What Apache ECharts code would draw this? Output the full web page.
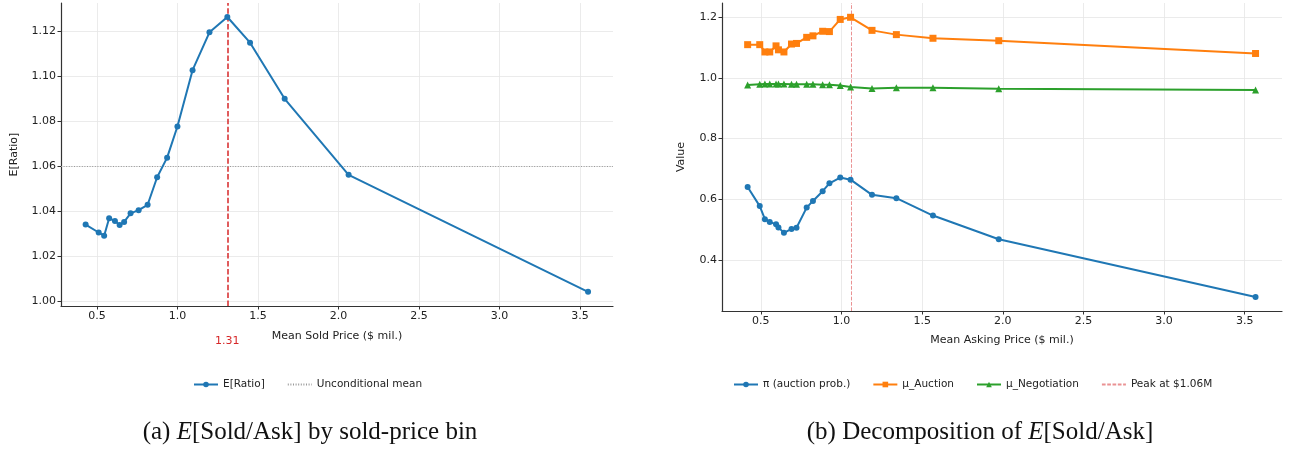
<!DOCTYPE html>
<html>
<head>
<meta charset="utf-8">
<script src="https://cdn.jsdelivr.net/npm/echarts@6/dist/echarts.min.js"></script>
<style>
  html, body { margin: 0; padding: 0; background: #ffffff; }
  #chart { width: 1291px; height: 453px; }
</style>
</head>
<body>
<div id="chart"></div>
<script>
// (a) expected sold/ask ratio by sold-price bin
const soldPrice = [0.430, 0.511, 0.545, 0.576, 0.612, 0.641, 0.669, 0.709, 0.759, 0.815,
                   0.874, 0.936, 1.000, 1.094, 1.199, 1.310, 1.451, 1.666, 2.063, 3.550];
const expRatio  = [1.0341, 1.0306, 1.0292, 1.0369, 1.0357, 1.0339, 1.0353, 1.0391, 1.0405, 1.0429,
                   1.0551, 1.0638, 1.0776, 1.1026, 1.1194, 1.1262, 1.1148, 1.0899, 1.0562, 1.0043];
const uncondMean = 1.0585;
const peakSold = 1.31;

// (b) decomposition by asking-price bin
const askPrice      = [0.418, 0.493, 0.525, 0.555, 0.594, 0.609, 0.643, 0.690, 0.721, 0.784,
                       0.823, 0.883, 0.925, 0.992, 1.056, 1.189, 1.340, 1.567, 1.975, 3.567];
const piAuction     = [0.641, 0.578, 0.535, 0.526, 0.518, 0.508, 0.490, 0.503, 0.507, 0.573,
                       0.595, 0.627, 0.653, 0.672, 0.665, 0.615, 0.604, 0.547, 0.469, 0.279];
const muAuction     = [1.109, 1.109, 1.085, 1.085, 1.105, 1.092, 1.085, 1.111, 1.113, 1.133,
                       1.138, 1.153, 1.152, 1.192, 1.199, 1.156, 1.142, 1.130, 1.122, 1.080];
const muNegotiation = [0.976, 0.979, 0.980, 0.980, 0.980, 0.980, 0.980, 0.979, 0.979, 0.979,
                       0.979, 0.977, 0.977, 0.975, 0.970, 0.965, 0.967, 0.967, 0.964, 0.960];
const peakAsk = 1.056;

// tick positions
const leftXTicks  = [0.5, 1.0, 1.5, 2.0, 2.5, 3.0, 3.5];
const leftYTicks  = [1.00, 1.02, 1.04, 1.06, 1.08, 1.10, 1.12];
const rightXTicks = [0.5, 1.0, 1.5, 2.0, 2.5, 3.0, 3.5];
const rightYTicks = [0.4, 0.6, 0.8, 1.0, 1.2];

const pair = (xs, ys) => xs.map((x, i) => [x, ys[i]]);

const FONT = 'DejaVu Sans';
const SERIF = 'Liberation Serif';
const C_BLUE = '#1f77b4', C_ORANGE = '#ff7f0e', C_GREEN = '#2ca02c', C_RED = '#d62728';
const C_MEAN = '#999999', C_PEAK = '#ea9293';

function valueAxis(opts) {
  return Object.assign({
    type: 'value',
    nameLocation: 'middle',
    nameTextStyle: { fontFamily: FONT, fontSize: 11, color: '#222' },
    axisLine: { show: true, onZero: false, lineStyle: { color: '#333', width: 1.2 } },
    axisTick: { show: true, length: 3.5, inside: false, customValues: opts.ticks,
                lineStyle: { color: '#333', width: 1 } },
    axisLabel: { show: true, customValues: opts.ticks, margin: 5,
                 fontFamily: FONT, fontSize: 11, color: '#222',
                 formatter: v => v.toFixed(opts.digits) },
    splitLine: { show: true, lineStyle: { color: '#e6e6e6', width: 0.8 } },
    splitArea: { show: false }
  }, opts.extra);
}

// legend entries that are plain reference lines carry no marker
const lineOnly = name => ({ name, itemStyle: { opacity: 0 } });

const option = {
  backgroundColor: '#ffffff',
  animation: false,
  textStyle: { fontFamily: FONT },
  grid: [
    { left: 61, top: 3, width: 552, height: 303, containLabel: false, outerBoundsMode: 'none' },
    { left: 722, top: 3, width: 560, height: 308, containLabel: false, outerBoundsMode: 'none' }
  ],
  xAxis: [
    valueAxis({ ticks: leftXTicks, digits: 1, extra: {
      gridIndex: 0, min: 0.277, max: 3.705, name: 'Mean Sold Price ($ mil.)', nameGap: 25 } }),
    valueAxis({ ticks: rightXTicks, digits: 1, extra: {
      gridIndex: 1, min: 0.259, max: 3.731, name: 'Mean Asking Price ($ mil.)', nameGap: 24 } })
  ],
  yAxis: [
    valueAxis({ ticks: leftYTicks, digits: 2, extra: {
      gridIndex: 0, min: 0.998, max: 1.1324, name: 'E[Ratio]', nameGap: 41 } }),
    valueAxis({ ticks: rightYTicks, digits: 1, extra: {
      gridIndex: 1, min: 0.233, max: 1.246, name: 'Value', nameGap: 35 } })
  ],
  legend: [
    {
      left: 193, top: 379, padding: 0, itemWidth: 24, itemHeight: 7, itemGap: 22,
      textStyle: { fontFamily: FONT, fontSize: 10.5, color: '#222' },
      data: ['E[Ratio]', lineOnly('Unconditional mean')]
    },
    {
      left: 733, top: 379, padding: 0, itemWidth: 24, itemHeight: 7, itemGap: 22,
      textStyle: { fontFamily: FONT, fontSize: 10.5, color: '#222' },
      data: ['π (auction prob.)', 'μ_Auction', 'μ_Negotiation', lineOnly('Peak at $1.06M')]
    }
  ],
  series: [
    {
      name: 'E[Ratio]', type: 'line', xAxisIndex: 0, yAxisIndex: 0,
      data: pair(soldPrice, expRatio),
      symbol: 'circle', symbolSize: 6,
      itemStyle: { color: C_BLUE }, lineStyle: { color: C_BLUE, width: 2 },
      z: 5,
      markLine: {
        silent: true, symbol: 'none', animation: false,
        lineStyle: { color: C_RED, width: 1.5, type: [5.5, 2.4] },
        label: { show: true, position: 'start', distance: 30, formatter: p => p.value.toFixed(2),
                 color: C_RED, fontFamily: FONT, fontSize: 11 },
        data: [{ xAxis: peakSold }]
      }
    },
    {
      name: 'Unconditional mean', type: 'line', xAxisIndex: 0, yAxisIndex: 0,
      data: [], symbol: 'none',
      itemStyle: { color: C_MEAN },
      lineStyle: { color: C_MEAN, width: 1, type: [1, 1.6] },
      markLine: {
        silent: true, symbol: 'none', animation: false,
        lineStyle: { color: C_MEAN, width: 1, type: [1, 1.6] },
        label: { show: false },
        data: [{ yAxis: uncondMean }]
      }
    },
    {
      name: 'π (auction prob.)', type: 'line', xAxisIndex: 1, yAxisIndex: 1,
      data: pair(askPrice, piAuction),
      symbol: 'circle', symbolSize: 6,
      itemStyle: { color: C_BLUE }, lineStyle: { color: C_BLUE, width: 2 }, z: 5
    },
    {
      name: 'μ_Auction', type: 'line', xAxisIndex: 1, yAxisIndex: 1,
      data: pair(askPrice, muAuction),
      symbol: 'rect', symbolSize: 7,
      itemStyle: { color: C_ORANGE }, lineStyle: { color: C_ORANGE, width: 2 }, z: 5
    },
    {
      name: 'μ_Negotiation', type: 'line', xAxisIndex: 1, yAxisIndex: 1,
      data: pair(askPrice, muNegotiation),
      symbol: 'triangle', symbolSize: 7,
      itemStyle: { color: C_GREEN }, lineStyle: { color: C_GREEN, width: 2 }, z: 5
    },
    {
      name: 'Peak at $1.06M', type: 'line', xAxisIndex: 1, yAxisIndex: 1,
      data: [], symbol: 'none',
      itemStyle: { color: C_PEAK },
      lineStyle: { color: C_PEAK, width: 1, type: [3.7, 1.6] },
      markLine: {
        silent: true, symbol: 'none', animation: false,
        lineStyle: { color: C_PEAK, width: 1, type: [3.7, 1.6] },
        label: { show: false },
        data: [{ xAxis: peakAsk }]
      }
    }
  ],
  graphic: [
    {
      type: 'text', x: 310, y: 432,
      style: {
        text: '{n|(a) }{i|E}{n|[Sold/Ask] by sold-price bin}',
        align: 'center', verticalAlign: 'middle',
        rich: {
          n: { fontFamily: SERIF, fontSize: 25, fill: '#111', color: '#111' },
          i: { fontFamily: SERIF, fontSize: 25, fontStyle: 'italic', fill: '#111', color: '#111' }
        }
      }
    },
    {
      type: 'text', x: 980, y: 432,
      style: {
        text: '{n|(b) Decomposition of }{i|E}{n|[Sold/Ask]}',
        align: 'center', verticalAlign: 'middle',
        rich: {
          n: { fontFamily: SERIF, fontSize: 25, fill: '#111', color: '#111' },
          i: { fontFamily: SERIF, fontSize: 25, fontStyle: 'italic', fill: '#111', color: '#111' }
        }
      }
    }
  ]
};

const chart = echarts.init(document.getElementById('chart'), null, { renderer: 'canvas' });
chart.setOption(option);
</script>
</body>
</html>
